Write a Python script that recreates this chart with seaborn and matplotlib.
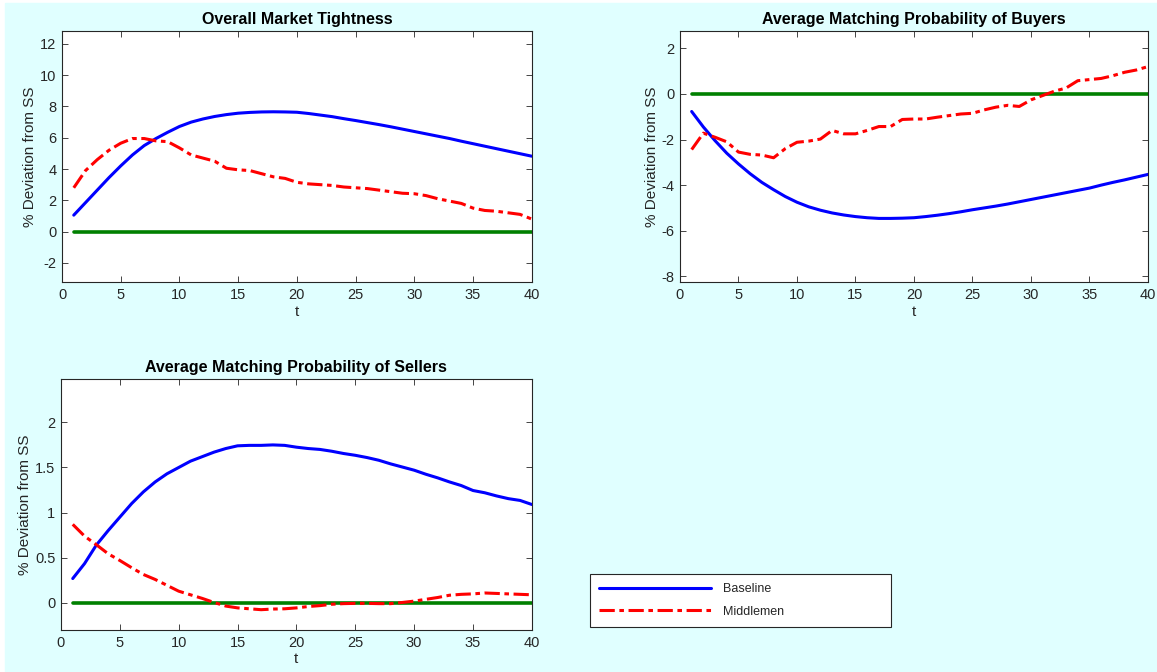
import numpy as np
import pandas as pd
import seaborn as sns
import matplotlib.pyplot as plt
from matplotlib.patches import Rectangle

t = list(range(1, 41))

# Overall Market Tightness
tight_base = [1.05, 1.85, 2.65, 3.45, 4.2, 4.9, 5.5, 5.95, 6.35, 6.72,
              7.0, 7.2, 7.36, 7.48, 7.57, 7.62, 7.65, 7.66, 7.65, 7.63,
              7.55, 7.45, 7.35, 7.22, 7.1, 6.97, 6.84, 6.7, 6.55, 6.4,
              6.25, 6.1, 5.95, 5.78, 5.62, 5.46, 5.3, 5.14, 4.98, 4.82]
tight_mid = [2.8, 3.9, 4.6, 5.2, 5.65, 5.95, 5.95, 5.8, 5.75, 5.35,
             4.9, 4.7, 4.5, 4.05, 3.95, 3.9, 3.7, 3.5, 3.4, 3.15,
             3.05, 3.0, 2.95, 2.85, 2.8, 2.75, 2.65, 2.55, 2.45, 2.42,
             2.3, 2.1, 1.95, 1.8, 1.5, 1.35, 1.3, 1.2, 1.1, 0.8]

# Average Matching Probability of Buyers
buy_base = [-0.77, -1.45, -2.05, -2.6, -3.07, -3.5, -3.88, -4.2, -4.5, -4.75,
            -4.95, -5.1, -5.22, -5.31, -5.38, -5.43, -5.46, -5.46, -5.45, -5.43,
            -5.38, -5.32, -5.25, -5.17, -5.08, -5.0, -4.92, -4.83, -4.73, -4.63,
            -4.53, -4.43, -4.33, -4.23, -4.13, -4.0, -3.88, -3.77, -3.65, -3.53]
buy_mid = [-2.44, -1.72, -1.9, -2.1, -2.55, -2.65, -2.68, -2.8, -2.4, -2.12,
           -2.07, -1.98, -1.6, -1.75, -1.75, -1.6, -1.43, -1.43, -1.12, -1.1,
           -1.1, -1.02, -0.95, -0.88, -0.85, -0.7, -0.58, -0.5, -0.55, -0.26,
           -0.07, 0.12, 0.26, 0.58, 0.63, 0.68, 0.8, 0.95, 1.05, 1.2]

# Average Matching Probability of Sellers
sell_base = [0.27, 0.435, 0.64, 0.8, 0.95, 1.1, 1.23, 1.34, 1.43, 1.5,
             1.57, 1.62, 1.67, 1.71, 1.74, 1.745, 1.745, 1.75, 1.745, 1.725,
             1.71, 1.7, 1.68, 1.655, 1.635, 1.61, 1.58, 1.54, 1.505, 1.47,
             1.425, 1.385, 1.34, 1.3, 1.245, 1.22, 1.185, 1.155, 1.135, 1.09]
sell_mid = [0.87, 0.74, 0.645, 0.545, 0.47, 0.39, 0.315, 0.26, 0.195, 0.13,
            0.09, 0.05, 0.005, -0.035, -0.055, -0.065, -0.075, -0.068, -0.065, -0.055,
            -0.04, -0.03, -0.015, -0.008, -0.005, -0.005, -0.008, -0.008, 0.005, 0.02,
            0.04, 0.06, 0.085, 0.095, 0.1, 0.11, 0.105, 0.1, 0.095, 0.09]

titles = ['Overall Market Tightness',
          'Average Matching Probability of Buyers',
          'Average Matching Probability of Sellers']
ylims = [(-3.24, 12.81), (-8.26, 2.75), (-0.3, 2.48)]
yticks = [list(range(-2, 13, 2)), list(range(-8, 3, 2)), [0, 0.5, 1, 1.5, 2]]
series = [(tight_base, tight_mid), (buy_base, buy_mid), (sell_base, sell_mid)]

sns.set_style('ticks')
plt.rcParams['font.family'] = ['Liberation Sans', 'DejaVu Sans']

bg = '#E0FFFF'
fig = plt.figure(figsize=(11.57, 6.72), dpi=100, facecolor='white')
fig.patches.append(Rectangle((5 / 1157, 0), 1, 1 - 3 / 672,
                             transform=fig.transFigure, color=bg, zorder=-10))

rects = [[0.0536, 0.580, 0.406, 0.3735],
         [0.5877, 0.580, 0.4045, 0.3735],
         [0.0527, 0.0625, 0.4070, 0.3735]]

for i, r in enumerate(rects):
    ax = fig.add_axes(r)
    base, mid = series[i]
    df = pd.DataFrame({'t': t, 'Baseline': base, 'Middlemen': mid,
                       'zero': [0] * len(t)})
    sns.lineplot(data=df, x='t', y='zero', color='#008000', lw=2.6, ax=ax,
                 label='_nolegend_')
    sns.lineplot(data=df, x='t', y='Baseline', color='#0000FF', lw=2.2, ax=ax,
                 label='Baseline')
    sns.lineplot(data=df, x='t', y='Middlemen', color='#FF0000', lw=2.2, ax=ax,
                 linestyle=(0, (5, 1.5, 1.5, 1.5)), label='Middlemen')
    ax.set_xlim(0, 40)
    ax.set_ylim(*ylims[i])
    ax.set_xticks(range(0, 41, 5))
    ax.set_yticks(yticks[i])
    ax.set_yticklabels([f'{v:g}' for v in yticks[i]])
    ax.tick_params(direction='in', top=True, right=True, labelsize=10.5,
                   length=4, width=0.6, colors='#262626', pad=4)
    for s in ax.spines.values():
        s.set_linewidth(0.8)
        s.set_color('#262626')
    ax.set_xlabel('t', fontsize=11, color='#262626', labelpad=2)
    ax.set_ylabel('% Deviation from SS', fontsize=11, color='#262626', labelpad=2)
    ax.set_title(titles[i], fontsize=11.5, fontweight='bold', pad=5, color='black')
    ax.set_facecolor('white')
    if i == 2:
        h, l = ax.get_legend_handles_labels()
        ax.get_legend().remove()
        leg = fig.legend(h, l, loc='lower left',
                         bbox_to_anchor=(590 / 1157, 1 - 627 / 672, 301 / 1157, 52 / 672),
                         mode='expand', fontsize=9, frameon=True, fancybox=False,
                         framealpha=1, edgecolor='#262626', handlelength=8.9,
                         borderpad=0.75, labelspacing=0.85, handletextpad=1.0,
                         borderaxespad=0)
        leg.get_frame().set_linewidth(0.8)
        leg.get_frame().set_facecolor('white')
    else:
        ax.get_legend().remove()

fig.savefig('out.png', dpi=100, facecolor=fig.get_facecolor())
